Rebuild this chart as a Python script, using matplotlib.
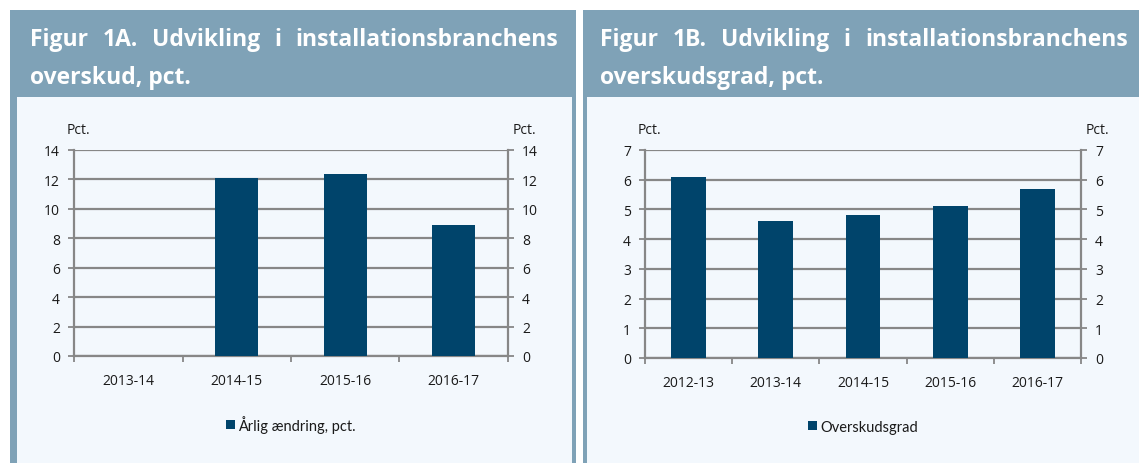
import matplotlib
matplotlib.use("Agg")
import matplotlib.pyplot as plt
from matplotlib.patches import Rectangle
import numpy as np

W, H = 1139, 464

# ---- data ----
cats_a = ["2013-14", "2014-15", "2015-16", "2016-17"]
vals_a = [0.0, 12.1, 12.4, 8.9]
label_a = "Årlig ændring, pct."
title_a_line1 = ["Figur", "1A.", "Udvikling", "i", "installationsbranchens"]
title_a_line2 = "overskud, pct."
yticks_a = [0, 2, 4, 6, 8, 10, 12, 14]

cats_b = ["2012-13", "2013-14", "2014-15", "2015-16", "2016-17"]
vals_b = [6.1, 4.6, 4.8, 5.1, 5.7]
label_b = "Overskudsgrad"
title_b_line1 = ["Figur", "1B.", "Udvikling", "i", "installationsbranchens"]
title_b_line2 = "overskudsgrad, pct."
yticks_b = [0, 1, 2, 3, 4, 5, 6, 7]

unit = "Pct."

# ---- style ----
BAND = "#7fa2b7"
PANEL = "#f3f8fd"
BAR = "#00446b"
GRID = "#878787"
TXT = "#1a1a1a"
FONT = "Open Sans"
LEG_FONT = "Lato"

fig = plt.figure(figsize=(W / 100, H / 100), dpi=100)
fig.patch.set_facecolor("white")


def fx(x):
    return x / W


def fy(y):
    return 1 - y / H


def rect(x0, y0, x1, y1, color):
    fig.patches.append(Rectangle((fx(x0), fy(y1)), fx(x1) - fx(x0), fy(y0) - fy(y1),
                                 transform=fig.transFigure, facecolor=color,
                                 edgecolor="none", zorder=-5))


# panels
rect(10, 11, 576, H, BAND)
rect(17, 98, 572, H, PANEL)
rect(583, 11, W, H, BAND)
rect(587, 98, W, H, PANEL)

renderer = fig.canvas.get_renderer()


def justified(words, x0, x1, ybase, size):
    texts = []
    for w in words:
        t = fig.text(0, fy(ybase), w, color="white", fontsize=size, fontweight="bold",
                     family=FONT, ha="left", va="baseline")
        texts.append(t)
    widths = [t.get_window_extent(renderer).width for t in texts]
    gap = ((x1 - x0) - sum(widths)) / (len(words) - 1)
    x = x0
    for t, w in zip(texts, widths):
        t.set_x(fx(x))
        x += w + gap


TSIZE = 16.5
justified(title_a_line1, 30, 558, 46, TSIZE)
fig.text(fx(30), fy(84), title_a_line2, color="white", fontsize=TSIZE, fontweight="bold",
         family=FONT, ha="left", va="baseline")
justified(title_b_line1, 600, 1128, 46, TSIZE)
fig.text(fx(600), fy(84), title_b_line2, color="white", fontsize=TSIZE, fontweight="bold",
         family=FONT, ha="left", va="baseline")


def make_chart(left, right, top, bottom, cats, vals, yticks, label):
    ax = fig.add_axes([fx(left), fy(bottom), fx(right) - fx(left), fy(top) - fy(bottom)])
    ax.set_facecolor("none")
    n = len(cats)
    x = np.arange(n)
    bars = ax.bar(x, vals, width=0.4, color=BAR, zorder=3, label=label)
    ax.set_xlim(-0.5, n - 0.5)
    ax.set_ylim(yticks[0], yticks[-1])
    ax.set_yticks(yticks)
    ax.set_yticklabels([str(v) for v in yticks])
    ax.set_xticks(x)
    ax.set_xticklabels(cats)
    ax.set_xticks(np.arange(n + 1) - 0.5, minor=True)
    ax.tick_params(axis="x", which="major", length=0, pad=12, labelsize=10,
                   labelcolor=TXT)
    ax.tick_params(axis="x", which="minor", length=4, width=1.3, color=GRID, direction="out")
    ax.tick_params(axis="y", which="major", length=4, width=1.3, color=GRID, direction="out",
                   left=True, right=True, labelleft=True, labelright=True,
                   labelsize=10, labelcolor=TXT, pad=6)
    for lab in ax.get_xticklabels() + ax.get_yticklabels():
        lab.set_family(FONT)
    ax.grid(axis="y", color=GRID, linewidth=1.6, zorder=1)
    ax.set_axisbelow(True)
    for s in ["left", "right", "bottom"]:
        ax.spines[s].set_color(GRID)
        ax.spines[s].set_linewidth(1.6)
    ax.spines["top"].set_visible(False)
    # unit labels
    ax.text(0.01, 1.1, unit, transform=ax.transAxes, ha="center", va="center",
            fontsize=10, family=FONT, color=TXT)
    ax.text(1.037, 1.1, unit, transform=ax.transAxes, ha="center", va="center",
            fontsize=10, family=FONT, color=TXT)
    leg = ax.legend(handles=[bars], loc="center", bbox_to_anchor=(0.5, -0.33),
                    frameon=False, handlelength=0.6, handleheight=0.6,
                    handletextpad=0.2, prop={"family": LEG_FONT, "size": 10.5})
    for t in leg.get_texts():
        t.set_color(TXT)
    return ax


make_chart(74, 508, 151, 357, cats_a, vals_a, yticks_a, label_a)
make_chart(645, 1081, 151, 359, cats_b, vals_b, yticks_b, label_b)

fig.savefig("out.png", dpi=100, facecolor="white")
